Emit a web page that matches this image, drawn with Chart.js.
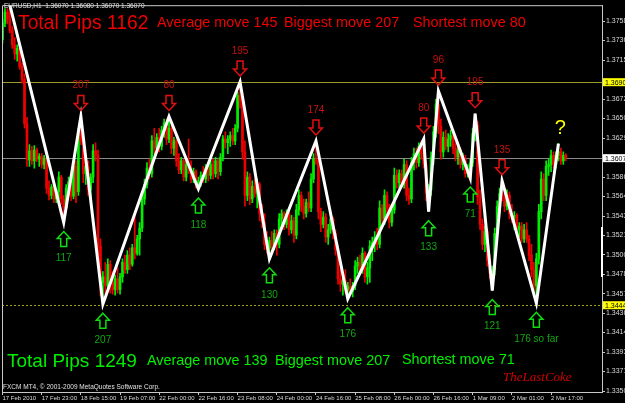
<!DOCTYPE html>
<html>
<head>
<meta charset="utf-8">
<script src="https://cdn.jsdelivr.net/npm/chart.js@4.4.0/dist/chart.umd.min.js"></script>
<style>
html, body { margin: 0; padding: 0; background: #000; }
</style>
</head>
<body>
<canvas id="chart" width="625" height="403"></canvas>
<script>
// prices are kept in pips above 1.3000 (EURUSD H1)
const BASE = 1.3, PIP = 0.0001

const opens = [
  738,756,768,760,748,732,722,728,708,694, 645,605,615,604,616,606,609,600,607,574,
  566,575,562,570,586,562,552,574,581,565, 598,570,634,626,590,598,572,586,615,610,
  510,470,476,466,490,470,462,474,462,476, 492,484,500,490,508,502,518,530,562,578,
  596,590,626,618,630,620,638,646,628,640, 618,626,604,594,604,586,600,594,584,592,
  578,582,588,584,596,588,600,590,604,592, 608,628,624,628,632,626,640,676,670,614,
  566,586,562,576,568,578,546,536,512,508, 516,510,524,512,540,546,534,546,528,538,
  522,550,566,554,546,558,552,584,606,604, 548,534,542,520,528,540,524,506,474,468,
  472,462,466,460,466,488,492,484,502,476, 486,510,514,520,512,552,540,566,552,536,
  550,588,580,590,578,600,566,562,602,612, 602,620,612,600,568,572,608,636,666,642,
  614,630,620,628,632,618,608,616,600,606, 590,594,602,634,644,564,534,512,526,494,
  480,484,524,554,568,564,554,566,546,542, 544,528,532,518,528,518,500,484,466,496,
  548,584,566,598,600,610,600,610,614,604, 610
]
const highs = [
  760,772,772,776,752,740,732,730,712,700, 652,622,620,621,618,612,612,610,608,582,
  578,577,572,592,588,566,578,586,584,603, 604,640,653,630,606,604,590,622,624,616,
  518,482,492,496,494,482,478,486,480,496, 500,505,508,512,545,522,536,568,584,602,
  606,632,640,634,640,642,650,650,653,644, 630,628,612,608,606,604,628,604,596,594,
  586,592,598,600,600,604,606,608,606,612, 632,636,632,636,640,644,680,691,676,626,
  592,590,582,584,584,580,556,546,526,520, 526,528,528,546,550,548,550,550,544,542,
  556,572,570,562,562,570,590,612,626,608, 552,548,546,534,545,542,528,510,484,478,
  484,470,474,470,494,498,500,508,504,492, 516,520,526,530,560,556,572,570,556,556,
  596,594,594,594,606,604,574,608,618,618, 624,626,628,604,578,614,642,672,681,650,
  636,638,634,638,636,624,620,618,612,610, 600,606,640,656,648,572,540,532,530,500,
  488,530,560,574,582,572,572,570,556,548, 546,536,536,534,536,522,512,492,502,556,
  592,590,604,606,616,614,614,623,618,614, 612
]
const lows = [
  734,752,755,745,728,716,714,705,690,640, 598,598,600,596,603,598,596,595,568,561,
  562,558,558,562,556,536,549,566,560,562, 558,566,622,580,578,566,560,580,604,500,
  455,446,456,462,458,457,456,458,457,470, 480,480,484,488,496,500,500,526,556,574,
  584,586,612,614,614,616,630,622,624,612, 610,598,590,590,582,582,590,580,580,574,
  573,576,580,580,582,584,584,586,584,588, 604,618,612,620,622,622,636,662,606,554,
  560,556,558,564,552,538,530,506,502,496, 504,506,500,508,532,528,530,522,524,514,
  518,544,548,540,542,548,548,580,600,540, 526,530,514,512,524,518,500,468,460,456,
  458,452,456,454,462,480,480,480,470,468, 470,494,504,506,508,534,534,546,530,532,
  546,574,574,574,574,560,556,558,594,596, 598,606,596,560,548,566,600,630,634,606,
  608,616,614,620,612,604,600,596,594,586, 586,585,598,626,556,528,506,504,488,474,
  461,478,518,546,560,548,550,540,536,528, 522,520,514,514,514,494,476,458,447,490,
  540,560,560,588,592,596,596,604,600,600, 604
]
const closes = [
  756,768,760,748,732,722,728,708,694,645, 605,615,604,616,606,609,600,607,574,566,
  575,562,570,586,562,552,574,581,565,598, 570,634,626,590,598,572,586,615,610,510,
  470,476,466,490,470,462,474,462,476,492, 484,500,490,508,502,518,530,562,578,596,
  590,626,618,630,620,638,646,628,640,618, 626,604,594,604,586,600,594,584,592,578,
  582,588,584,596,588,600,590,604,592,608, 628,624,628,632,626,640,676,670,614,566,
  586,562,576,568,578,546,536,512,508,516, 510,524,512,540,546,534,546,528,538,522,
  550,566,554,546,558,552,584,606,604,548, 534,542,520,528,540,524,506,474,468,472,
  462,466,460,466,488,492,484,502,476,486, 510,514,520,512,552,540,566,552,536,550,
  588,580,590,578,600,566,562,602,612,602, 620,612,600,568,572,608,636,666,642,614,
  630,620,628,632,618,608,616,600,606,590, 594,602,634,644,564,534,512,526,494,480,
  484,524,554,568,564,554,566,546,542,544, 528,532,518,528,518,500,484,466,496,548,
  584,566,598,600,610,600,610,614,604,610, 607
]

// zigzag turning points (bar index, pips) and the move written at each one
const zzIdx = [3,25,32,41,68,80,97,109,128,141,172,174,178,191,193,200,204,218,227]
const zzPips = [776,536,653,446,653,573,691,496,626,452,628,548,681,585,656,461,582,447,623]
const zzText = ['','117','207','207','80','118','195','130','174','176','80','133','96','71','195','121','135','176 so far','?']

const timeIdx = [0,16,32,48,64,80,96,112,128,144,160,176,192,208,224]
const timeLabels = ['17 Feb 2010','17 Feb 23:00','18 Feb 15:00','19 Feb 07:00','22 Feb 00:00','22 Feb 16:00',
  '23 Feb 08:00','24 Feb 00:00','24 Feb 16:00','25 Feb 08:00','26 Feb 00:00','26 Feb 16:00',
  '1 Mar 09:00','2 Mar 01:00','2 Mar 17:00']
const priceTicks = [1.33502,1.33717,1.33932,1.34147,1.34362,1.34572,1.34787,1.35002,1.35217,1.35432,
  1.35647,1.35862,1.36292,1.36507,1.36722,1.37152,1.37367,1.37582]

const bidPrice = 1.36070
const topLevel = 1.36908
const bottomLevel = 1.34448

const redStats = ['Total Pips 1162', 'Average move 145', 'Biggest move 207', 'Shortest move 80']
const greenStats = ['Total Pips 1249', 'Average move 139', 'Biggest move 207', 'Shortest move 71']

const UP = '#00ee00', DOWN = '#ee0000'
const px = v => BASE + v * PIP

Chart.defaults.font.family = "'Liberation Sans', Arial, sans-serif"

let wicks = [], bodies = [], colors = []
closes.forEach((c, i) => {
  wicks.push({ x: i, y: [px(lows[i]), px(highs[i])] })
  bodies.push({ x: i, y: [px(Math.min(opens[i], c)), px(Math.max(opens[i], c))] })
  colors.push(c >= opens[i] ? UP : DOWN)
})
let zz = zzIdx.map((v, k) => ({ x: v, y: px(zzPips[k]) }))

function hLine(ctx, a, y, color, dash) {
  ctx.strokeStyle = color
  ctx.setLineDash(dash)
  ctx.beginPath()
  ctx.moveTo(a.left, Math.round(y) + 0.5)
  ctx.lineTo(a.right, Math.round(y) + 0.5)
  ctx.stroke()
  ctx.setLineDash([])
}

function arrow(ctx, x, tip, dir, color) {
  // dir 1 = pointing down, -1 = pointing up
  const len = 15, hw = 6.5, sw = 3, hh = 7
  ctx.strokeStyle = color
  ctx.lineWidth = 1.5
  ctx.beginPath()
  ctx.moveTo(x, tip)
  ctx.lineTo(x + hw, tip - dir * hh)
  ctx.lineTo(x + sw, tip - dir * hh)
  ctx.lineTo(x + sw, tip - dir * len)
  ctx.lineTo(x - sw, tip - dir * len)
  ctx.lineTo(x - sw, tip - dir * hh)
  ctx.lineTo(x - hw, tip - dir * hh)
  ctx.closePath()
  ctx.stroke()
}

function axisBox(ctx, a, y, text, bg) {
  ctx.fillStyle = bg
  ctx.fillRect(a.right + 1, y - 4, 24, 8)
  ctx.fillStyle = '#000'
  ctx.font = "7px 'Liberation Sans'"
  ctx.textAlign = 'left'
  ctx.textBaseline = 'middle'
  ctx.fillText(text, a.right + 3, y + 0.5)
}

function row(ctx, texts, xs, sizes, y, color) {
  ctx.fillStyle = color
  ctx.textAlign = 'left'
  ctx.textBaseline = 'alphabetic'
  texts.forEach((t, i) => {
    ctx.font = sizes[i] + "px 'Liberation Sans'"
    ctx.fillText(t, xs[i], y[i])
  })
}

const overlay = {
  id: 'overlay',
  beforeDraw(chart) {
    const ctx = chart.ctx
    ctx.save()
    ctx.fillStyle = '#000'
    ctx.fillRect(0, 0, chart.width, chart.height)
    ctx.restore()
  },
  beforeDatasetsDraw(chart) {
    const { ctx, chartArea: a, scales: { y } } = chart
    ctx.save()
    ctx.lineWidth = 1
    hLine(ctx, a, y.getPixelForValue(bidPrice), '#8a8a8a', [])
    hLine(ctx, a, y.getPixelForValue(topLevel), '#9c9c28', [])
    hLine(ctx, a, y.getPixelForValue(bottomLevel), '#a4a418', [2, 2])
    ctx.restore()
  },
  afterDatasetsDraw(chart) {
    const { ctx, scales: { x, y } } = chart
    ctx.save()
    ctx.textAlign = 'center'
    ctx.textBaseline = 'middle'
    zzIdx.forEach((v, k) => {
      if (!zzText[k]) return
      const X = x.getPixelForValue(v), Y = y.getPixelForValue(px(zzPips[k]))
      if (zzText[k] == '?') {
        ctx.fillStyle = '#ffff00'
        ctx.font = "20px 'Liberation Sans'"
        ctx.fillText('?', X + 2, Y - 15)
      } else if (k % 2 == 0) {
        arrow(ctx, X, Y - 6, 1, '#e01010')
        ctx.fillStyle = '#c81010'
        ctx.font = "10px 'Liberation Sans'"
        ctx.fillText(zzText[k], X, Y - 31)
      } else {
        arrow(ctx, X, Y + 9, -1, '#10dd10')
        ctx.fillStyle = '#10a810'
        ctx.font = "10px 'Liberation Sans'"
        ctx.fillText(zzText[k], X, Y + 36)
      }
    })
    ctx.restore()
  },
  afterDraw(chart) {
    const { ctx, chartArea: a, scales: { y } } = chart
    ctx.save()
    // frame left and top
    ctx.strokeStyle = '#c8c8c8'
    ctx.lineWidth = 1
    ctx.beginPath()
    ctx.moveTo(a.left + 0.5, a.bottom)
    ctx.lineTo(a.left + 0.5, a.top + 0.5)
    ctx.lineTo(a.right, a.top + 0.5)
    ctx.stroke()
    ctx.fillStyle = '#ffffff'
    ctx.fillRect(a.right - 1, 227, 2, 50)

    axisBox(ctx, a, y.getPixelForValue(topLevel), topLevel.toFixed(5), '#ffff00')
    axisBox(ctx, a, y.getPixelForValue(bottomLevel), bottomLevel.toFixed(5), '#ffff00')
    axisBox(ctx, a, y.getPixelForValue(bidPrice), bidPrice.toFixed(5), '#ffffff')

    ctx.fillStyle = '#e0e0e0'
    ctx.font = "6.5px 'Liberation Sans'"
    ctx.textAlign = 'left'
    ctx.textBaseline = 'middle'
    ctx.fillText('EURUSD,H1  1.36070 1.36080 1.36070 1.36070', 4, 6.5)
    ctx.fillText('FXCM MT4, \u00a9 2001-2009 MetaQuotes Software Corp.', 3, 387)

    row(ctx, redStats, [18, 157, 284, 413], [19.3, 14.4, 14.4, 14.4], [29, 27, 27, 27], '#f00000')
    row(ctx, greenStats, [7, 147, 275, 402], [19, 14.4, 14.4, 14.4], [367, 365, 365, 364], '#00f000')

    ctx.fillStyle = '#d00000'
    ctx.font = "italic 13px 'Liberation Serif'"
    ctx.textBaseline = 'middle'
    ctx.fillText('TheLastCoke', 503, 378)
    ctx.restore()
  }
}

new Chart(document.getElementById('chart'), {
  type: 'bar',
  data: {
    datasets: [
      { type: 'line', data: zz, borderColor: '#ffffff', borderWidth: 3, pointRadius: 0, tension: 0, order: 0 },
      { data: bodies, backgroundColor: colors, barThickness: 2, grouped: false, minBarLength: 1, order: 1 },
      { data: wicks, backgroundColor: colors, barThickness: 1, grouped: false, order: 2 }
    ]
  },
  options: {
    responsive: false,
    devicePixelRatio: 1,
    animation: false,
    layout: { padding: { left: 2, top: 2, right: 0, bottom: 0 } },
    plugins: { legend: { display: false }, tooltip: { enabled: false } },
    scales: {
      x: {
        type: 'linear', min: -0.2, max: 244.8, offset: false,
        afterBuildTicks: s => { s.ticks = timeIdx.map(v => ({ value: v })) },
        afterFit: s => { s.height = 11 },
        grid: { drawOnChartArea: false, tickLength: 3, color: '#c8c8c8', offset: false },
        border: { color: '#c8c8c8' },
        ticks: { align: 'start', padding: 0, maxRotation: 0, autoSkip: false, color: '#d8d8d8',
          font: { size: 6 }, callback: (v, i) => timeLabels[i] }
      },
      y: {
        position: 'right', min: 1.33491, max: 1.37757,
        afterBuildTicks: s => { s.ticks = priceTicks.map(v => ({ value: v })) },
        afterFit: s => { s.width = 23 },
        grid: { drawOnChartArea: false, tickLength: 3, color: '#c8c8c8' },
        border: { color: '#c8c8c8' },
        ticks: { padding: 1, color: '#d8d8d8', font: { size: 7 }, callback: v => v.toFixed(5) }
      }
    }
  },
  plugins: [overlay]
})
</script>
</body>
</html>
